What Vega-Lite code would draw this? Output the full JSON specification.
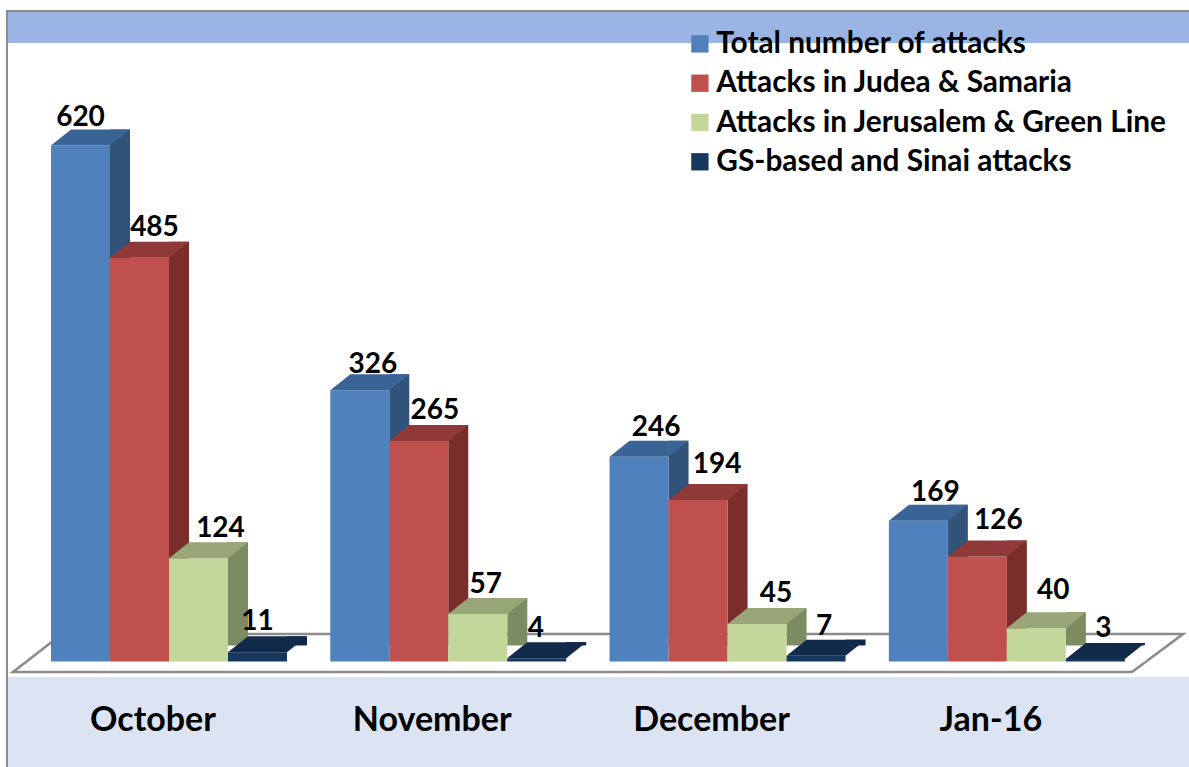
{"$schema":"https://vega.github.io/schema/vega-lite/v6.json","width":1181,"height":755,"autosize":{"type":"none"},"padding":{"left":8,"top":12,"right":0,"bottom":0},"background":"white","config":{"view":{"stroke":"#8c8c8c","strokeWidth":4},"font":"Lato"},
"datasets":{"d":[
{"month":"October","series":"Total number of attacks","attacks":620},{"month":"October","series":"Attacks in Judea & Samaria","attacks":485},{"month":"October","series":"Attacks in Jerusalem & Green Line","attacks":124},{"month":"October","series":"GS-based and Sinai attacks","attacks":11},
{"month":"November","series":"Total number of attacks","attacks":326},{"month":"November","series":"Attacks in Judea & Samaria","attacks":265},{"month":"November","series":"Attacks in Jerusalem & Green Line","attacks":57},{"month":"November","series":"GS-based and Sinai attacks","attacks":4},
{"month":"December","series":"Total number of attacks","attacks":246},{"month":"December","series":"Attacks in Judea & Samaria","attacks":194},{"month":"December","series":"Attacks in Jerusalem & Green Line","attacks":45},{"month":"December","series":"GS-based and Sinai attacks","attacks":7},
{"month":"Jan-16","series":"Total number of attacks","attacks":169},{"month":"Jan-16","series":"Attacks in Judea & Samaria","attacks":126},{"month":"Jan-16","series":"Attacks in Jerusalem & Green Line","attacks":40},{"month":"Jan-16","series":"GS-based and Sinai attacks","attacks":3}]},
"resolve":{"scale":{"xOffset":"independent","color":"independent"}},
"layer":[
{"data":{"values":[{"from":-126.8,"to":780.4}]},"mark":{"type":"rect","fill":"white"},"encoding":{"y":{"field":"from","type":"quantitative","axis":null,"scale":{"domain":[-126.8,780.4],"range":[755,0],"nice":false,"zero":false}},"y2":{"field":"to"}}},
{"data":{"values":[{"from":743.2,"to":780.4}]},"mark":{"type":"rect","fill":"#9AB5E4"},"encoding":{"y":{"field":"from","type":"quantitative","axis":null},"y2":{"field":"to"}}},
{"data":{"values":[{"from":-126.8,"to":-18.6}]},"mark":{"type":"rect","fill":"#DCE4F3"},"encoding":{"y":{"field":"from","type":"quantitative","axis":null},"y2":{"field":"to"}}},
{"data":{"values":[{"base":0}]},"mark":{"type":"point","filled":false,"fill":"white","fillOpacity":1,"opacity":1,"stroke":"#8c8c8c","strokeWidth":2.6,"size":1440000,"shape":"M-0.9758,0.0175L-0.8941,-0.0458L0.9742,-0.0458L0.8892,0.0175Z"},"encoding":{"y":{"field":"base","type":"quantitative","axis":null}}},
{"data":{"name":"d"},"mark":{"type":"bar","width":20,"yOffset":-16,"y2Offset":-16},"encoding":{
"x":{"field":"month","type":"nominal","sort":null,"scale":{"type":"band","range":[21.35,1138.5],"paddingInner":0.155,"paddingOuter":0.0775},"axis":{"title":null,"ticks":false,"domain":false,"labelAngle":0,"labelFont":"Lato","labelFontSize":34,"labelFontWeight":"bold","labelColor":"black","offset":-47,"labelOffset":-16,"labelPadding":0,"labelBaseline":"middle","zindex":1,"grid":false}},
"xOffset":{"field":"series","type":"nominal","sort":null,"scale":{"type":"band","range":[39.5,275.5],"paddingInner":0,"paddingOuter":0}},
"y":{"field":"attacks","type":"quantitative","axis":null,"stack":null},"y2":{"datum":0},
"color":{"field":"series","type":"nominal","legend":null,"scale":{"domain":["Total number of attacks","Attacks in Judea & Samaria","Attacks in Jerusalem & Green Line","GS-based and Sinai attacks"],"range":["#325379","#7A2E2C","#7C8B62","#0F2744"]}}}},
{"data":{"name":"d"},"transform":[{"filter":"datum.series=='GS-based and Sinai attacks'"}],"mark":{"type":"point","filled":true,"fill":"white","opacity":1,"size":10000,"shape":"M0.59,0L1,0L1,-0.33Z"},"encoding":{
"x":{"field":"month","type":"nominal","sort":null},
"xOffset":{"field":"series","type":"nominal","scale":{"type":"band","domain":["Total number of attacks","Attacks in Judea & Samaria","Attacks in Jerusalem & Green Line","GS-based and Sinai attacks"],"paddingInner":0,"paddingOuter":0}},
"y":{"datum":0,"type":"quantitative","axis":null}}},
{"data":{"name":"d"},"mark":{"type":"bar","stroke":null},"encoding":{
"x":{"field":"month","type":"nominal","sort":null},
"xOffset":{"field":"series","type":"nominal","sort":null,"scale":{"type":"band","paddingInner":0,"paddingOuter":0}},
"y":{"field":"attacks","type":"quantitative","axis":null,"stack":null},"y2":{"datum":0},
"color":{"field":"series","type":"nominal","scale":{"domain":["Total number of attacks","Attacks in Judea & Samaria","Attacks in Jerusalem & Green Line","GS-based and Sinai attacks"],"range":["#4F81BD","#C0504D","#C4D79B","#17375E"]},"legend":{"title":null,"orient":"none","legendX":677,"legendY":17,"symbolType":"square","symbolSize":300,"symbolStrokeWidth":0,"symbolOpacity":1,"labelFont":"Lato","labelFontSize":29.8,"labelFontWeight":"bold","labelColor":"black","labelOffset":1.5,"rowPadding":8.3,"labelLimit":600}}}},
{"data":{"name":"d"},"mark":{"type":"point","filled":true,"opacity":1,"size":10000,"strokeWidth":0,"shape":"M-0.59,0L-0.19,-0.32L0.99,-0.32L0.59,0Z"},"encoding":{
"x":{"field":"month","type":"nominal","sort":null},
"xOffset":{"field":"series","type":"nominal","sort":null,"scale":{"type":"band","paddingInner":0,"paddingOuter":0}},
"y":{"field":"attacks","type":"quantitative","axis":null},
"color":{"field":"series","type":"nominal","legend":null,"scale":{"domain":["Total number of attacks","Attacks in Judea & Samaria","Attacks in Jerusalem & Green Line","GS-based and Sinai attacks"],"range":["#3B6496","#8F3A38","#98A678","#122B4A"]}}}},
{"data":{"name":"d"},"encoding":{
"x":{"field":"month","type":"nominal","sort":null},
"xOffset":{"field":"series","type":"nominal","sort":null,"scale":{"type":"band","paddingInner":0,"paddingOuter":0}},
"y":{"field":"attacks","type":"quantitative","axis":null},
"text":{"field":"attacks","type":"quantitative"}},
"layer":[
{"transform":[{"filter":"datum.attacks==620"}],"mark":{"type":"text","font":"Lato","fontWeight":"bold","fontSize":28,"color":"black","baseline":"middle","dx":0,"dy":-27}},
{"transform":[{"filter":"datum.attacks==485"}],"mark":{"type":"text","font":"Lato","fontWeight":"bold","fontSize":28,"color":"black","baseline":"middle","dx":15,"dy":-30}},
{"transform":[{"filter":"datum.attacks==124"}],"mark":{"type":"text","font":"Lato","fontWeight":"bold","fontSize":28,"color":"black","baseline":"middle","dx":22,"dy":-29}},
{"transform":[{"filter":"datum.attacks==11"}],"mark":{"type":"text","font":"Lato","fontWeight":"bold","fontSize":28,"color":"black","baseline":"middle","dx":0,"dy":-30}},
{"transform":[{"filter":"datum.attacks==326"}],"mark":{"type":"text","font":"Lato","fontWeight":"bold","fontSize":28,"color":"black","baseline":"middle","dx":13,"dy":-25}},
{"transform":[{"filter":"datum.attacks==265"}],"mark":{"type":"text","font":"Lato","fontWeight":"bold","fontSize":28,"color":"black","baseline":"middle","dx":16,"dy":-30}},
{"transform":[{"filter":"datum.attacks==57"}],"mark":{"type":"text","font":"Lato","fontWeight":"bold","fontSize":28,"color":"black","baseline":"middle","dx":8,"dy":-29}},
{"transform":[{"filter":"datum.attacks==4"}],"mark":{"type":"text","font":"Lato","fontWeight":"bold","fontSize":28,"color":"black","baseline":"middle","dx":-1,"dy":-29}},
{"transform":[{"filter":"datum.attacks==246"}],"mark":{"type":"text","font":"Lato","fontWeight":"bold","fontSize":28,"color":"black","baseline":"middle","dx":17,"dy":-29}},
{"transform":[{"filter":"datum.attacks==194"}],"mark":{"type":"text","font":"Lato","fontWeight":"bold","fontSize":28,"color":"black","baseline":"middle","dx":19,"dy":-35}},
{"transform":[{"filter":"datum.attacks==45"}],"mark":{"type":"text","font":"Lato","fontWeight":"bold","fontSize":28,"color":"black","baseline":"middle","dx":19,"dy":-30}},
{"transform":[{"filter":"datum.attacks==7"}],"mark":{"type":"text","font":"Lato","fontWeight":"bold","fontSize":28,"color":"black","baseline":"middle","dx":8,"dy":-29}},
{"transform":[{"filter":"datum.attacks==169"}],"mark":{"type":"text","font":"Lato","fontWeight":"bold","fontSize":28,"color":"black","baseline":"middle","dx":17,"dy":-28}},
{"transform":[{"filter":"datum.attacks==126"}],"mark":{"type":"text","font":"Lato","fontWeight":"bold","fontSize":28,"color":"black","baseline":"middle","dx":21,"dy":-36}},
{"transform":[{"filter":"datum.attacks==40"}],"mark":{"type":"text","font":"Lato","fontWeight":"bold","fontSize":28,"color":"black","baseline":"middle","dx":17,"dy":-37}},
{"transform":[{"filter":"datum.attacks==3"}],"mark":{"type":"text","font":"Lato","fontWeight":"bold","fontSize":28,"color":"black","baseline":"middle","dx":8,"dy":-30}}
]}
]}
